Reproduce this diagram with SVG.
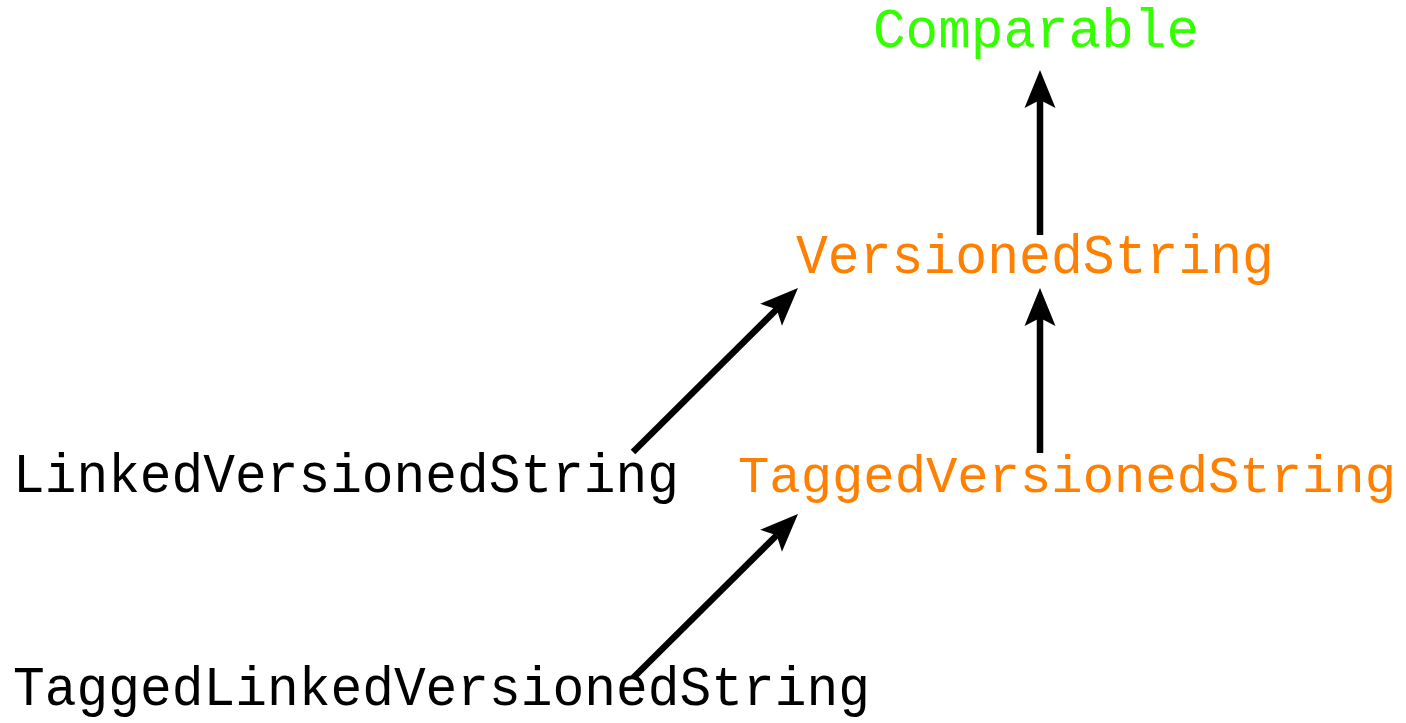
<svg xmlns="http://www.w3.org/2000/svg" width="1406" height="723" viewBox="0 0 1406 723">
<style>
text{font-family:"Liberation Mono","DejaVu Sans Mono",monospace;font-size:56px}
.green{fill:#33ff00}
.orange{fill:#ff8000}
.black{fill:#000}
.edge{stroke:#000;stroke-width:6.5;fill:none;marker-end:url(#ah)}
</style>
<defs>
<marker id="ah" markerUnits="userSpaceOnUse" viewBox="-10 -20 45 40" markerWidth="45" markerHeight="40" refX="0" refY="0" orient="auto" overflow="visible">
<path d="M30,0 L-8,-15.5 L0,0 L-8,15.5 Z" fill="#000"/>
</marker>
</defs>
<rect width="1406" height="723" fill="#fff"/>
<g id="connectors">
<line class="edge" x1="1040" y1="235" x2="1040" y2="100"/>
<line class="edge" x1="1040" y1="453" x2="1040" y2="318"/>
<line class="edge" x1="633" y1="452" x2="776.7" y2="309.2"/>
<line class="edge" x1="633" y1="678" x2="776.7" y2="535.2"/>
</g>
<g id="comparable"><text class="green" x="873" y="47" textLength="326" lengthAdjust="spacingAndGlyphs">Comparable</text></g>
<g id="versionedstring"><text class="orange" x="796" y="273" textLength="478" lengthAdjust="spacingAndGlyphs">VersionedString</text></g>
<g id="linkedversionedstring"><text class="black" x="13" y="492" textLength="666" lengthAdjust="spacingAndGlyphs">LinkedVersionedString</text></g>
<g id="taggedversionedstring"><text class="orange" x="738" y="492" style="font-size:52px" textLength="658" lengthAdjust="spacingAndGlyphs">TaggedVersionedString</text></g>
<g id="taggedlinkedversionedstring"><text class="black" x="13" y="705" textLength="857" lengthAdjust="spacingAndGlyphs">TaggedLinkedVersionedString</text></g>
</svg>
